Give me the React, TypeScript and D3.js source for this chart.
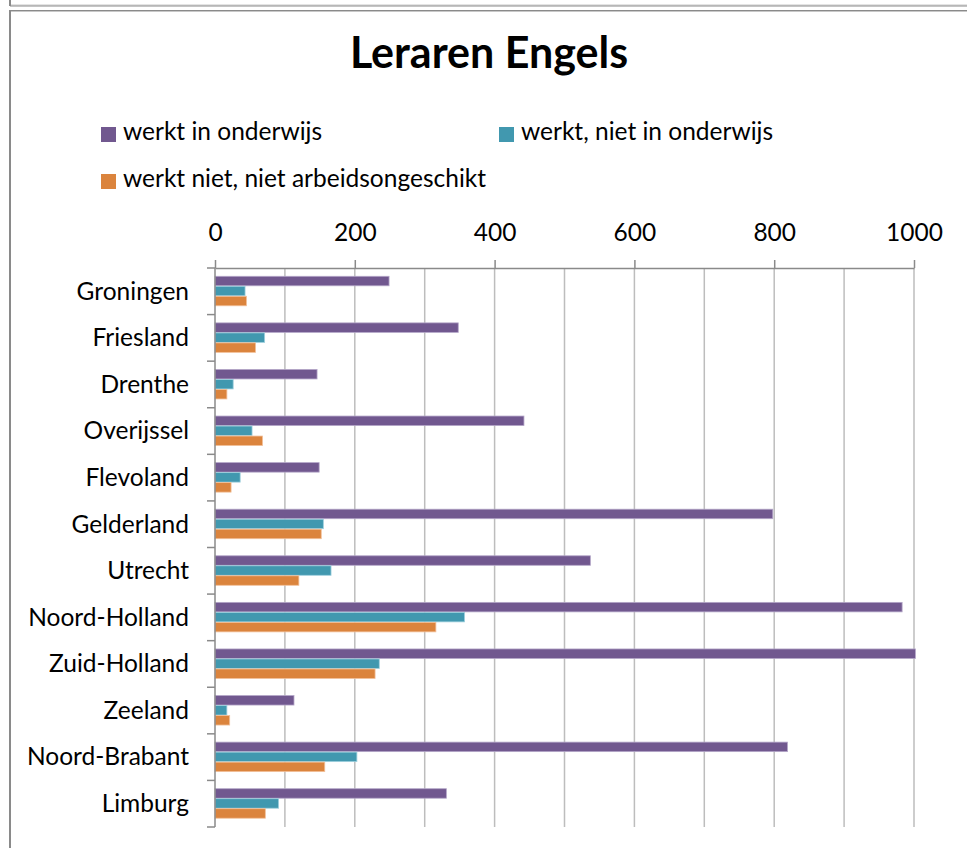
import React, { useEffect, useRef } from 'react'
import * as d3 from 'd3'

const categories = ["Groningen", "Friesland", "Drenthe", "Overijssel", "Flevoland", "Gelderland",
    "Utrecht", "Noord-Holland", "Zuid-Holland", "Zeeland", "Noord-Brabant", "Limburg"]
const werktInOnderwijs = [249, 348, 146, 442, 149, 798, 537, 983, 1002, 113, 819, 331]
const werktNietInOnderwijs = [43, 71, 26, 53, 36, 155, 166, 357, 235, 17, 203, 91]
const werktNiet = [45, 58, 17, 68, 23, 152, 120, 316, 229, 21, 157, 72]
const seriesNames = ["werkt in onderwijs", "werkt, niet in onderwijs", "werkt niet, niet arbeidsongeschikt"]
const seriesColors = ["#71588F", "#4198AF", "#DB843D"]
const strokeColors = ["#b4a6c8", "#9fd0de", "#f2c09a"]
const xTicks = [0, 200, 400, 600, 800, 1000]

const W = 967, H = 848
const plot = { left: 215, right: 914, top: 268, bottom: 827 }
const font = "Lato, 'Open Sans', sans-serif"
const labelSize = "24.5px"

export default function App() {
    const ref = useRef<SVGSVGElement>(null)

    useEffect(() => {
        const svg = d3.select(ref.current)
        svg.selectAll("*").remove()

        // frame lines
        const frame = svg.append("g")
        frame.append("line").attr("x1", 10).attr("x2", W).attr("y1", 5).attr("y2", 5).attr("stroke", "#c8c8c8").attr("stroke-width", 1)
        frame.append("line").attr("x1", 10).attr("x2", W).attr("y1", 6).attr("y2", 6).attr("stroke", "#8a8a8a").attr("stroke-width", 1)
        frame.append("line").attr("x1", 10).attr("x2", 10).attr("y1", 0).attr("y2", 6).attr("stroke", "#8a8a8a").attr("stroke-width", 2)
        frame.append("line").attr("x1", 10).attr("x2", W).attr("y1", 10.5).attr("y2", 10.5).attr("stroke", "#8a8a8a").attr("stroke-width", 1)
        frame.append("line").attr("x1", 10).attr("x2", W).attr("y1", 11.5).attr("y2", 11.5).attr("stroke", "#c8c8c8").attr("stroke-width", 1)
        frame.append("line").attr("x1", 10).attr("x2", 10).attr("y1", 10).attr("y2", H).attr("stroke", "#8a8a8a").attr("stroke-width", 2)

        // title
        svg.append("text")
            .attr("x", 489).attr("y", 68)
            .attr("text-anchor", "middle")
            .style("font-family", font)
            .style("font-weight", "bold")
            .style("font-size", "43px")
            .text("Leraren Engels")

        // legend
        const legendPos = [[101, 127], [499, 127], [101, 174]]
        seriesNames.forEach((name, i) => {
            const [lx, ly] = legendPos[i]
            svg.append("rect")
                .attr("x", lx).attr("y", ly)
                .attr("width", 15).attr("height", 15)
                .attr("fill", seriesColors[i])
            svg.append("text")
                .attr("x", lx + 22).attr("y", ly + 13)
                .style("font-family", font)
                .style("font-size", labelSize)
                .text(name)
        })

        const x = d3.scaleLinear().domain([0, 1000]).range([plot.left, plot.right])
        const y0 = d3.scaleBand().domain(categories).range([plot.top, plot.bottom]).paddingInner(0).paddingOuter(0)
        const groupH = y0.bandwidth() * 0.644
        const y1 = d3.scaleBand().domain(d3.range(3).map(String)).range([0, groupH])

        // gridlines every 100
        svg.append("g")
            .selectAll("line")
            .data(d3.range(100, 1001, 100))
            .join("line")
            .attr("x1", d => x(d)).attr("x2", d => x(d))
            .attr("y1", plot.top).attr("y2", plot.bottom)
            .attr("stroke", "#bdbdbd").attr("stroke-width", 1.5)

        // top axis
        const xAxis = svg.append("g")
            .attr("transform", `translate(0,${plot.top})`)
            .call(d3.axisTop(x).tickValues(xTicks).tickFormat(d3.format("d")).tickSize(8).tickSizeOuter(0).tickPadding(19))
        xAxis.select(".domain").attr("stroke", "#8a8a8a").attr("stroke-width", 1.5)
        xAxis.selectAll(".tick line").attr("stroke", "#8a8a8a").attr("stroke-width", 1.5)
        xAxis.selectAll(".tick text")
            .style("font-family", font)
            .style("font-size", labelSize)
            .attr("fill", "#000")

        // bars
        const rows = categories.map((c, i) => ({ c, values: [werktInOnderwijs[i], werktNietInOnderwijs[i], werktNiet[i]] }))
        svg.append("g")
            .selectAll("g")
            .data(rows)
            .join("g")
            .attr("transform", d => `translate(0,${(y0(d.c) as number) + (y0.bandwidth() - groupH) / 2})`)
            .selectAll("rect")
            .data(d => d.values.map((v, k) => ({ v, k })))
            .join("rect")
            .attr("x", x(0))
            .attr("y", d => y1(String(d.k)) as number)
            .attr("width", d => x(d.v) - x(0))
            .attr("height", y1.bandwidth() - 0.5)
            .attr("fill", d => seriesColors[d.k])
            .attr("stroke", d => strokeColors[d.k])
            .attr("stroke-width", 0.8)

        // left axis
        const boundaries = d3.range(categories.length + 1).map(i => plot.top + i * y0.bandwidth())
        const yAxis = svg.append("g")
        yAxis.append("line")
            .attr("x1", plot.left).attr("x2", plot.left)
            .attr("y1", plot.top).attr("y2", plot.bottom)
            .attr("stroke", "#8a8a8a").attr("stroke-width", 1.5)
        yAxis.selectAll("line.tk")
            .data(boundaries)
            .join("line")
            .attr("class", "tk")
            .attr("x1", plot.left - 8).attr("x2", plot.left)
            .attr("y1", d => d).attr("y2", d => d)
            .attr("stroke", "#8a8a8a").attr("stroke-width", 1.5)
        yAxis.selectAll("text")
            .data(categories)
            .join("text")
            .attr("x", 189)
            .attr("y", d => (y0(d) as number) + y0.bandwidth() / 2)
            .attr("dy", "0.34em")
            .attr("text-anchor", "end")
            .style("font-family", font)
            .style("font-size", labelSize)
            .text(d => d)
    }, [])

    return (
        <svg ref={ref} width={W} height={H}
            style={{ position: 'absolute', left: 0, top: 0, background: '#fff' }} />
    )
}
